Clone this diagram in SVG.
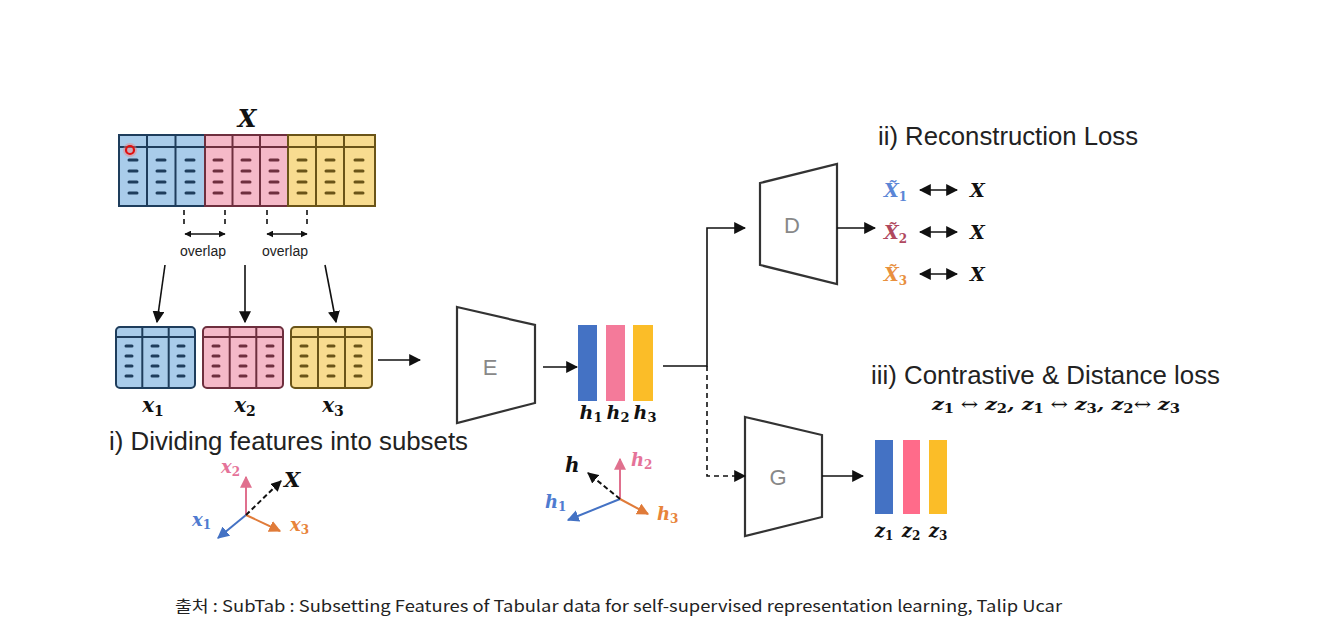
<svg xmlns="http://www.w3.org/2000/svg" width="1318" height="635" viewBox="0 0 1318 635">
<style>
.sans{font-family:"Liberation Sans",Arial,sans-serif;}
.math{font-family:"DejaVu Serif","Liberation Serif",serif;font-weight:bold;font-style:italic;}
.sub{font-style:normal;}
.title{font-family:"Liberation Sans",Arial,sans-serif;font-size:25px;fill:#222;}
.enc{fill:#fff;stroke:#333;stroke-width:2.2;}
.enclabel{font-family:"Liberation Sans",Arial,sans-serif;font-size:22px;fill:#888;text-anchor:middle;}
.conn{fill:none;stroke:#111;stroke-width:1.6;}
.dash{fill:none;stroke:#111;stroke-width:1.6;stroke-dasharray:5 4;}
.bl{fill:#A9CCEA;stroke:#1E3D5C;}
.pk{fill:#F5B9C8;stroke:#6E2F3E;}
.yl{fill:#F8DC90;stroke:#6A5418;}
.cell{stroke-width:2;}
.dsh{stroke-width:3;stroke-linecap:round;}
</style>
<defs>
<marker id="ah" viewBox="0 0 10 10" refX="9" refY="5" markerWidth="7" markerHeight="7" orient="auto-start-reverse" markerUnits="userSpaceOnUse">
<path d="M0,0 L10,5 L0,10 z" fill="#111"/>
</marker>
<marker id="ahs" viewBox="0 0 10 10" refX="9" refY="5" markerWidth="12" markerHeight="12" orient="auto-start-reverse" markerUnits="userSpaceOnUse">
<path d="M0,0 L10,5 L0,10 z" fill="#111"/>
</marker>
<marker id="ahb" viewBox="0 0 10 10" refX="9" refY="5" markerWidth="12" markerHeight="12" orient="auto" markerUnits="userSpaceOnUse">
<path d="M0,0 L10,5 L0,10 z" fill="#4472C4"/>
</marker>
<marker id="ahp" viewBox="0 0 10 10" refX="9" refY="5" markerWidth="12" markerHeight="12" orient="auto" markerUnits="userSpaceOnUse">
<path d="M0,0 L10,5 L0,10 z" fill="#E0708E"/>
</marker>
<marker id="aho" viewBox="0 0 10 10" refX="9" refY="5" markerWidth="12" markerHeight="12" orient="auto" markerUnits="userSpaceOnUse">
<path d="M0,0 L10,5 L0,10 z" fill="#E07B39"/>
</marker>
<marker id="ahk" viewBox="0 0 10 10" refX="9" refY="5" markerWidth="11" markerHeight="11" orient="auto" markerUnits="userSpaceOnUse">
<path d="M0,0 L10,5 L0,10 z" fill="#111"/>
</marker>
</defs>

<!-- Full table X -->
<g id="table-X">
<text class="math" x="247" y="127" font-size="24" text-anchor="middle" fill="#111">X</text>
<rect class="bl cell" x="119" y="135" width="86" height="71"/>
<rect class="pk cell" x="205" y="135" width="83" height="71"/>
<rect class="yl cell" x="288" y="135" width="87" height="71"/>
<g class="bl cell"><line x1="147" y1="135" x2="147" y2="206"/><line x1="175.5" y1="135" x2="175.5" y2="206"/><line x1="119" y1="147" x2="205" y2="147"/></g>
<g class="pk cell"><line x1="232.5" y1="135" x2="232.5" y2="206"/><line x1="260" y1="135" x2="260" y2="206"/><line x1="205" y1="147" x2="288" y2="147"/></g>
<g class="yl cell"><line x1="316" y1="135" x2="316" y2="206"/><line x1="344" y1="135" x2="344" y2="206"/><line x1="288" y1="147" x2="375" y2="147"/></g>
<g class="bl dsh">
<path d="M129,160h8M129,171h8M129,182h8M129,193h8M157,160h8M157,171h8M157,182h8M157,193h8M186,160h8M186,171h8M186,182h8M186,193h8"/>
</g>
<g class="pk dsh">
<path d="M214,160h8M214,171h8M214,182h8M214,193h8M242,160h8M242,171h8M242,182h8M242,193h8M270,160h8M270,171h8M270,182h8M270,193h8"/>
</g>
<g class="yl dsh">
<path d="M298,160h8M298,171h8M298,182h8M298,193h8M326,160h8M326,171h8M326,182h8M326,193h8M355,160h8M355,171h8M355,182h8M355,193h8"/>
</g>
<circle cx="130" cy="150" r="7" fill="#F08080" opacity="0.45"/>
<circle cx="130" cy="150" r="4" fill="none" stroke="#E01010" stroke-width="2.2"/>
</g>

<!-- overlap markers -->
<g id="overlaps">
<g class="dash" stroke-dasharray="4 3">
<line x1="184" y1="210" x2="184" y2="227"/>
<line x1="225" y1="210" x2="225" y2="227"/>
<line x1="267" y1="210" x2="267" y2="227"/>
<line x1="307" y1="210" x2="307" y2="227"/>
</g>
<line class="conn" x1="185" y1="234" x2="225" y2="234" marker-start="url(#ah)" marker-end="url(#ah)"/>
<line class="conn" x1="267" y1="234" x2="307" y2="234" marker-start="url(#ah)" marker-end="url(#ah)"/>
<text class="sans" x="203" y="256" font-size="14" text-anchor="middle" fill="#222">overlap</text>
<text class="sans" x="285" y="256" font-size="14" text-anchor="middle" fill="#222">overlap</text>
</g>

<!-- Subsets -->
<g id="subset-x1">
<rect class="bl cell" x="116" y="327" width="79" height="61" rx="4"/>
<g class="bl cell"><line x1="142.3" y1="327" x2="142.3" y2="388"/><line x1="168.7" y1="327" x2="168.7" y2="388"/><line x1="116" y1="337" x2="195" y2="337"/></g>
<path class="bl dsh" d="M126,346h6M126,356h6M126,366h6M126,376h6M152,346h6M152,356h6M152,366h6M152,376h6M178,346h6M178,356h6M178,366h6M178,376h6"/>
<text class="math" x="153" y="412" font-size="20" text-anchor="middle" fill="#111">x<tspan class="sub" font-size="14" dy="4">1</tspan></text>
</g>
<g id="subset-x2">
<rect class="pk cell" x="203" y="327" width="80" height="61" rx="4"/>
<g class="pk cell"><line x1="229.7" y1="327" x2="229.7" y2="388"/><line x1="256.3" y1="327" x2="256.3" y2="388"/><line x1="203" y1="337" x2="283" y2="337"/></g>
<path class="pk dsh" d="M213,346h6M213,356h6M213,366h6M213,376h6M240,346h6M240,356h6M240,366h6M240,376h6M267,346h6M267,356h6M267,366h6M267,376h6"/>
<text class="math" x="245" y="412" font-size="20" text-anchor="middle" fill="#111">x<tspan class="sub" font-size="14" dy="4">2</tspan></text>
</g>
<g id="subset-x3">
<rect class="yl cell" x="291" y="327" width="81" height="61" rx="4"/>
<g class="yl cell"><line x1="318" y1="327" x2="318" y2="388"/><line x1="345" y1="327" x2="345" y2="388"/><line x1="291" y1="337" x2="372" y2="337"/></g>
<path class="yl dsh" d="M301,346h6M301,356h6M301,366h6M301,376h6M328,346h6M328,356h6M328,366h6M328,376h6M355,346h6M355,356h6M355,366h6M355,376h6"/>
<text class="math" x="333" y="412" font-size="20" text-anchor="middle" fill="#111">x<tspan class="sub" font-size="14" dy="4">3</tspan></text>
</g>
<text class="title" x="109" y="450" textLength="359" lengthAdjust="spacingAndGlyphs">i) Dividing features into subsets</text>

<!-- axis icon 1 -->
<g id="axes-x">
<line x1="246" y1="515" x2="246" y2="477" stroke="#E0708E" stroke-width="2" marker-end="url(#ahp)"/>
<line x1="246" y1="515" x2="218" y2="538" stroke="#4472C4" stroke-width="2" marker-end="url(#ahb)"/>
<line x1="246" y1="515" x2="280" y2="531" stroke="#E07B39" stroke-width="2" marker-end="url(#aho)"/>
<line x1="246" y1="515" x2="281" y2="481" stroke="#111" stroke-width="2" stroke-dasharray="5 3" marker-end="url(#ahk)"/>
<text class="math" x="221" y="473" font-size="18" fill="#E57399">x<tspan class="sub" font-size="12" dy="3">2</tspan></text>
<text class="math" x="284" y="487" font-size="21" fill="#111">X</text>
<text class="math" x="192" y="526" font-size="18" fill="#4F7BD0">x<tspan class="sub" font-size="12" dy="3">1</tspan></text>
<text class="math" x="290" y="531" font-size="18" fill="#E8843A">x<tspan class="sub" font-size="12" dy="3">3</tspan></text>
</g>

<!-- Encoder -->
<g id="encoder-E">
<polygon class="enc" points="457,307 535,325 535,403 457,423"/>
<text class="enclabel" x="490" y="375">E</text>
</g>

<!-- h bars -->
<g id="h-vectors">
<rect x="578" y="325" width="19" height="76" fill="#4472C4"/>
<rect x="606" y="325" width="19" height="76" fill="#F47A9A"/>
<rect x="633" y="325" width="20" height="76" fill="#FBBD28"/>
<text class="math" x="591" y="419" font-size="19" text-anchor="middle" fill="#111">h<tspan class="sub" font-size="13" dy="3">1</tspan></text>
<text class="math" x="618" y="419" font-size="19" text-anchor="middle" fill="#111">h<tspan class="sub" font-size="13" dy="3">2</tspan></text>
<text class="math" x="645" y="419" font-size="19" text-anchor="middle" fill="#111">h<tspan class="sub" font-size="13" dy="3">3</tspan></text>
</g>

<!-- axis icon 2 -->
<g id="axes-h">
<line x1="620" y1="499" x2="620" y2="459" stroke="#E0708E" stroke-width="2" marker-end="url(#ahp)"/>
<line x1="620" y1="499" x2="568" y2="520" stroke="#4472C4" stroke-width="2" marker-end="url(#ahb)"/>
<line x1="620" y1="499" x2="648" y2="514" stroke="#E07B39" stroke-width="2" marker-end="url(#aho)"/>
<line x1="620" y1="499" x2="588" y2="473" stroke="#111" stroke-width="2" stroke-dasharray="5 3" marker-end="url(#ahk)"/>
<text class="math" x="565" y="472" font-size="20" fill="#111">h</text>
<text class="math" x="631" y="466" font-size="18" fill="#E57399">h<tspan class="sub" font-size="12" dy="3">2</tspan></text>
<text class="math" x="545" y="508" font-size="18" fill="#4F7BD0">h<tspan class="sub" font-size="12" dy="3">1</tspan></text>
<text class="math" x="657" y="520" font-size="18" fill="#E8843A">h<tspan class="sub" font-size="12" dy="3">3</tspan></text>
</g>

<!-- Decoder -->
<g id="decoder-D">
<polygon class="enc" points="760,183 837,164 837,284 760,265"/>
<text class="enclabel" x="792" y="233">D</text>
</g>

<!-- Projection G -->
<g id="projection-G">
<polygon class="enc" points="745,417 822,435 822,517 745,536"/>
<text class="enclabel" x="778" y="485">G</text>
</g>

<!-- z bars -->
<g id="z-vectors">
<rect x="875" y="440" width="18" height="74" fill="#4472C4"/>
<rect x="903" y="440" width="17" height="74" fill="#FF6B8A"/>
<rect x="929" y="440" width="18" height="74" fill="#FBBD28"/>
<text class="math" x="884" y="537" font-size="18" text-anchor="middle" fill="#111">z<tspan class="sub" font-size="12" dy="3">1</tspan></text>
<text class="math" x="911" y="537" font-size="18" text-anchor="middle" fill="#111">z<tspan class="sub" font-size="12" dy="3">2</tspan></text>
<text class="math" x="938" y="537" font-size="18" text-anchor="middle" fill="#111">z<tspan class="sub" font-size="12" dy="3">3</tspan></text>
</g>

<!-- Reconstruction loss -->
<g id="reconstruction-loss">
<text class="title" x="878" y="145" textLength="260" lengthAdjust="spacingAndGlyphs">ii) Reconstruction Loss</text>
<g class="math" font-size="19">
<text x="884" y="197" fill="#5B86D6">X̃<tspan class="sub" font-size="12" dy="4">1</tspan></text>
<text x="884" y="239" fill="#B0485E">X̃<tspan class="sub" font-size="12" dy="4">2</tspan></text>
<text x="884" y="281" fill="#E8903E">X̃<tspan class="sub" font-size="12" dy="4">3</tspan></text>
<text x="970" y="197" fill="#111">X</text>
<text x="970" y="239" fill="#111">X</text>
<text x="970" y="281" fill="#111">X</text>
</g>
</g>

<!-- Contrastive -->
<g id="contrastive-loss">
<text class="title" x="871" y="384" textLength="349" lengthAdjust="spacingAndGlyphs">iii) Contrastive &amp; Distance loss</text>
<text class="math" x="932" y="410" font-size="17" fill="#111" textLength="248" lengthAdjust="spacingAndGlyphs">z<tspan class="sub" font-size="12" dy="3">1</tspan><tspan dy="-3" font-style="normal" font-weight="normal"> ↔ </tspan>z<tspan class="sub" font-size="12" dy="3">2</tspan><tspan dy="-3">,  z</tspan><tspan class="sub" font-size="12" dy="3">1</tspan><tspan dy="-3" font-style="normal" font-weight="normal"> ↔ </tspan>z<tspan class="sub" font-size="12" dy="3">3</tspan><tspan dy="-3">,  z</tspan><tspan class="sub" font-size="12" dy="3">2</tspan><tspan dy="-3" font-style="normal" font-weight="normal">↔ </tspan>z<tspan class="sub" font-size="12" dy="3">3</tspan></text>
</g>

<!-- Connectors -->
<g id="connectors">
<line class="conn" x1="165" y1="265" x2="157" y2="322" marker-end="url(#ahs)"/>
<line class="conn" x1="245" y1="265" x2="245" y2="322" marker-end="url(#ahs)"/>
<line class="conn" x1="325" y1="265" x2="336" y2="322" marker-end="url(#ahs)"/>
<line class="conn" x1="378" y1="360" x2="420" y2="360" marker-end="url(#ahs)"/>
<line class="conn" x1="543" y1="367" x2="577" y2="367" marker-end="url(#ahs)"/>
<polyline class="conn" points="663,366 707,366 707,228 745,228" marker-end="url(#ahs)"/>
<polyline class="dash" points="707,366 707,476 745,476" marker-end="url(#ahs)"/>
<line class="conn" x1="837" y1="228" x2="875" y2="228" marker-end="url(#ahs)"/>
<line class="conn" x1="822" y1="476" x2="863" y2="476" marker-end="url(#ahs)"/>
<line class="conn" x1="920" y1="190" x2="957" y2="190" stroke-width="2" marker-start="url(#ahs)" marker-end="url(#ahs)"/>
<line class="conn" x1="920" y1="232" x2="957" y2="232" stroke-width="2" marker-start="url(#ahs)" marker-end="url(#ahs)"/>
<line class="conn" x1="920" y1="274" x2="957" y2="274" stroke-width="2" marker-start="url(#ahs)" marker-end="url(#ahs)"/>
</g>

<text x="175" y="612" font-family="'Noto Sans CJK KR','Noto Sans',sans-serif" font-size="16" fill="#222" textLength="887" lengthAdjust="spacingAndGlyphs">출처 : SubTab : Subsetting Features of Tabular data for self-supervised representation  learning, Talip Ucar</text>
</svg>
